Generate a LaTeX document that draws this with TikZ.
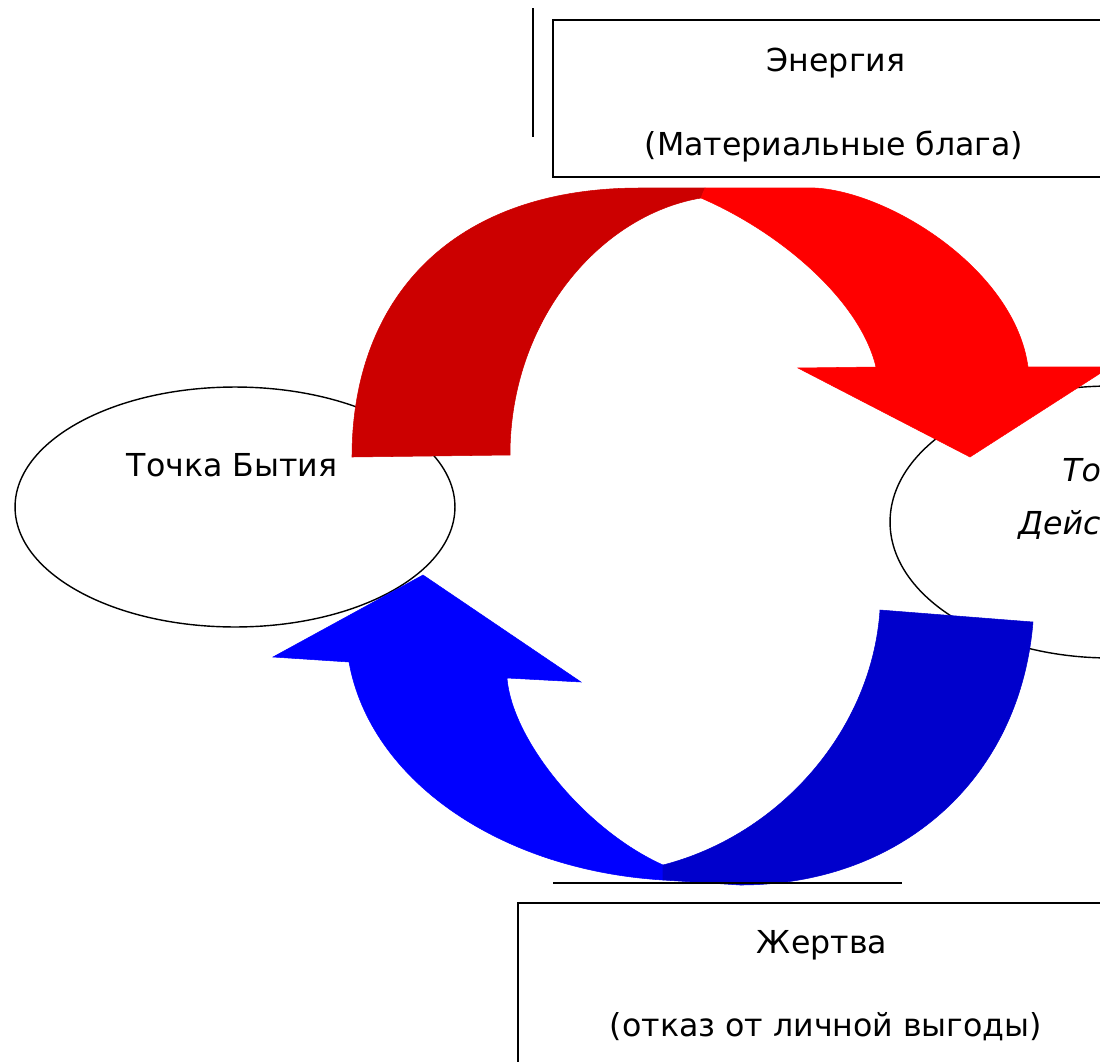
\documentclass[tikz,border=0pt]{standalone}
\usepackage{fontspec}
\setmainfont{DejaVu Sans}
\usepackage{xcolor}
\usetikzlibrary{shapes.geometric}
\definecolor{redback}{HTML}{CC0000}
\definecolor{redfront}{HTML}{FF0000}
\definecolor{bluefront}{HTML}{0000FF}
\definecolor{blueback}{HTML}{0000CC}

\begin{document}
\begin{tikzpicture}[x=0.02cm, y=-0.02cm, font=\fontsize{18}{22}\selectfont,
  frame/.style={draw, line width=1pt, inner sep=0pt},
  oval/.style={ellipse, draw, line width=0.8pt, inner sep=0pt, minimum width=8.8cm},
  label/.style={inner sep=0pt}]
\useasboundingbox (0,0) rectangle (1100,1062);
\clip (0,0) rectangle (1100,1062);

% the two points
\node[oval, minimum height=4.8cm] (being) at (235,507) {};
\node[oval, minimum height=5.44cm] (action) at (1110,522) {};
\node[label] (beingtxt) at (232,465) {Точка Бытия};
\node[label, anchor=west, font=\fontsize{18}{22}\selectfont\itshape] (actiontxt) at (1062,470) {Точка};
\node[label, anchor=west, font=\fontsize{18}{22}\selectfont\itshape] (actiontxtb) at (1018,525) {Действия};

% red arrow, back half
\filldraw[redback, line width=0.3pt] (352,457) .. controls (352,300) and (450,188) .. (640,188)
  -- (705,188) -- (701,198) .. controls (600,215) and (510,320) .. (510,455) -- cycle;
% red arrow, front half with head
\filldraw[redfront, line width=0.3pt] (705,188) -- (815,188) .. controls (890,192) and (1015,270) .. (1028,367)
  -- (1110,367) -- (970,457) -- (798,368) -- (876,367)
  .. controls (860,300) and (780,232) .. (701,198) -- cycle;

% blue arrow, front half with head
\filldraw[bluefront, line width=0.3pt] (423,575) -- (581,682) -- (507,678)
  .. controls (512,740) and (585,830) .. (663,865) -- (663,880)
  .. controls (500,870) and (370,780) .. (349,662) -- (273,657) -- cycle;
% blue arrow, back half
\filldraw[blueback, line width=0.3pt] (663,865) .. controls (780,835) and (872,730) .. (880,610)
  -- (1033,622) .. controls (1020,780) and (900,885) .. (740,885) -- (663,880) -- cycle;

% boxes
\node[frame, minimum width=11.32cm, minimum height=3.14cm] (energy) at (836,98.5) {};
\node[label] (energytxt) at (836,63) {Энергия};
\node[label] (energysub) at (834,147) {(Материальные блага)};
\node[frame, minimum width=12.24cm, minimum height=4.14cm] (victim) at (824,1006.5) {};
\node[label] (victimtxt) at (822,945) {Жертва};
\node[label] (victimsub) at (826,1027) {(отказ от личной выгоды)};

% stray strokes
\draw[line width=1pt] (533,8) -- (533,137);
\draw[line width=1pt] (553,883) -- (902,883);
\end{tikzpicture}
\end{document}
